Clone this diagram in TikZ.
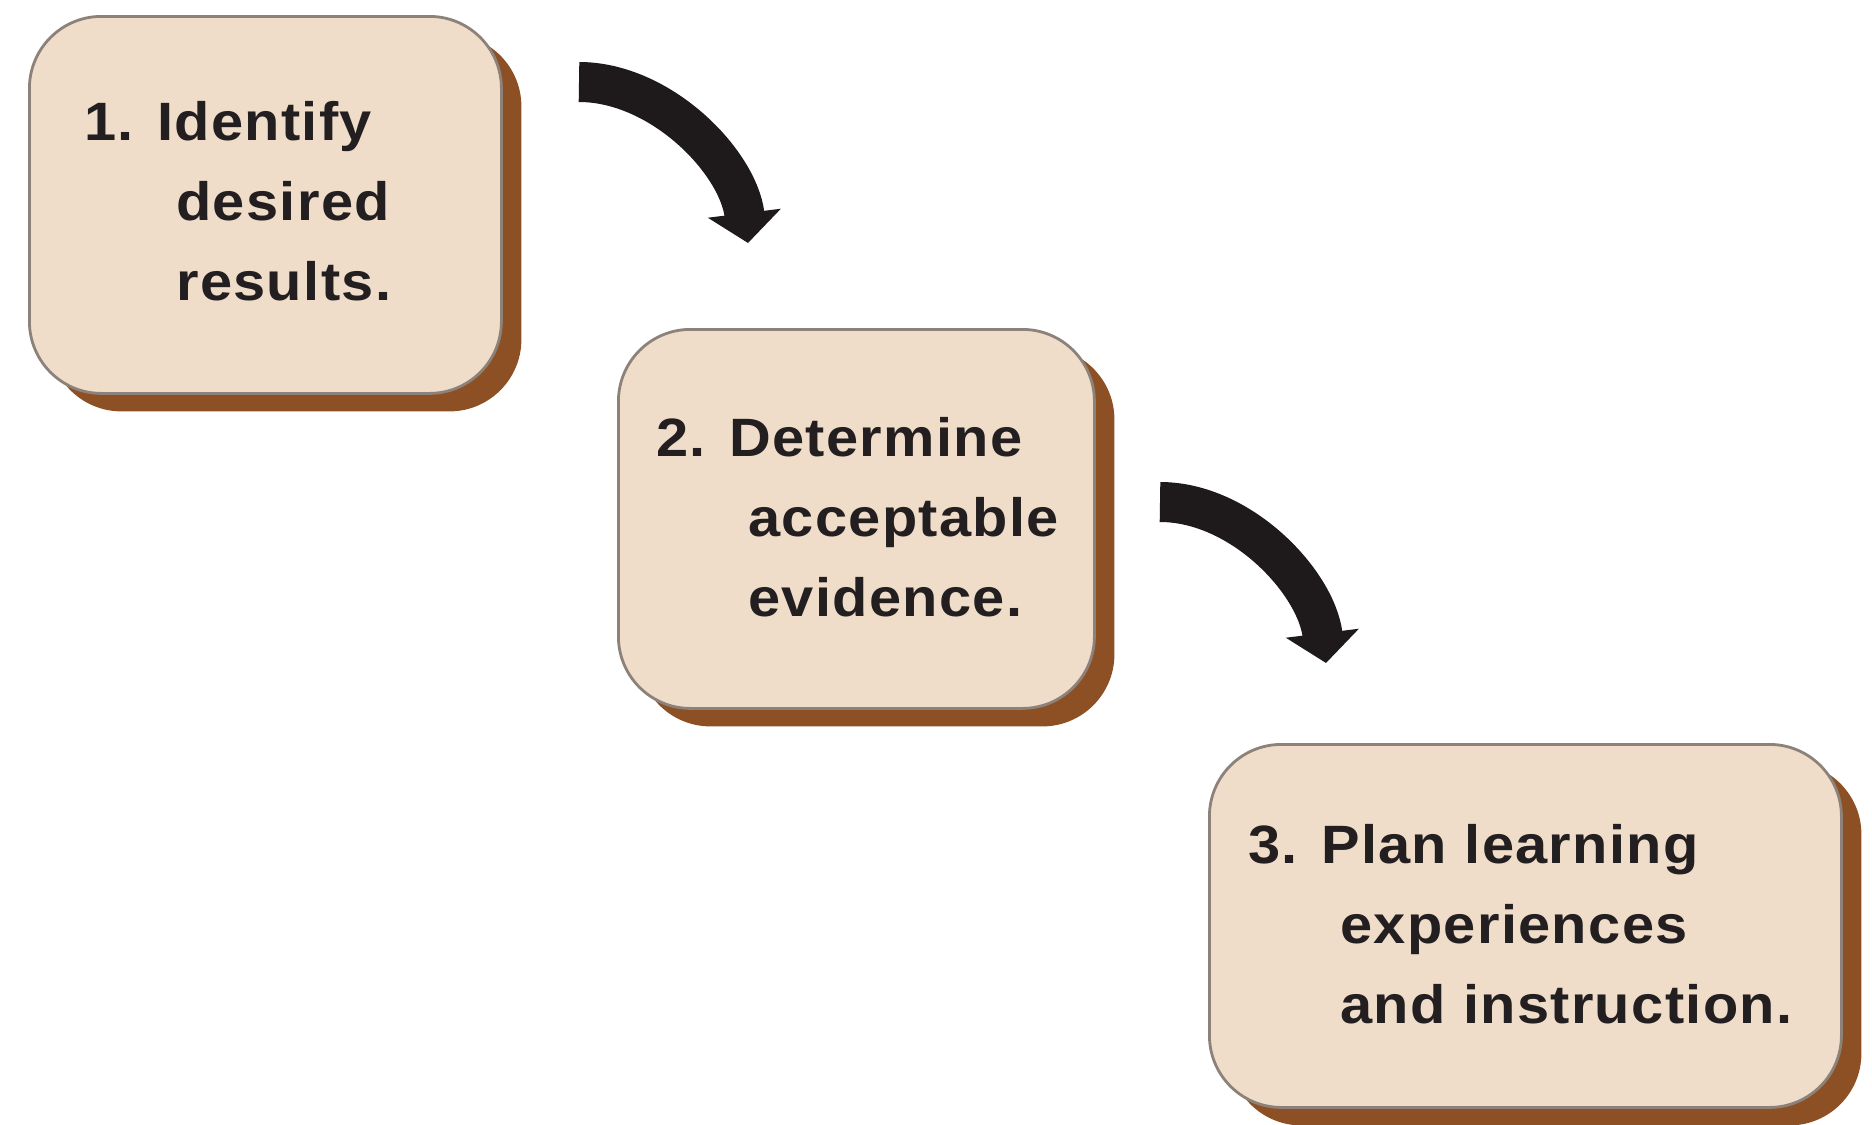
\documentclass[tikz,border=0pt]{standalone}
\usepackage{fontspec}
\usepackage{xcolor}
\usepackage{tikz}
\usetikzlibrary{arrows.meta,shadows}
\newfontfamily\stagefont[FakeStretch=1.07,LetterSpace=2.5]{Liberation Sans}
\definecolor{boxfill}{RGB}{239,221,202}
\definecolor{boxline}{RGB}{140,130,121}
\definecolor{shadowbrown}{RGB}{140,80,36}
\definecolor{arrowink}{RGB}{30,26,27}
\definecolor{textink}{RGB}{35,31,32}
\newcommand{\stageindent}{\hspace*{1.7em}}

\begin{document}
\begin{tikzpicture}[x=0.5pt,y=0.5pt,
  stagebox/.style={draw=boxline,line width=1.4pt,fill=boxfill,rounded corners=36pt,
    inner sep=0pt,anchor=north west,
    drop shadow={shadow xshift=10pt,shadow yshift=-9pt,fill=shadowbrown,opacity=1}},
  stagetext/.style={anchor=north west,inner sep=0pt,align=left,text=textink,
    font=\stagefont\bfseries\fontsize{27}{40}\selectfont},
  bigarrow/.style={draw=arrowink,line width=20pt,-{Triangle[width=36pt,length=15pt]}}]
\useasboundingbox (0,0) rectangle (1872,-1124);
%% step 1
\node[stagebox,minimum width=236pt,minimum height=188.5pt] (box1) at (28,-15) {};
\node[stagetext] (text1) at (84,-101) {1. Identify\\\stageindent desired\\\stageindent results.};
%% step 2
\node[stagebox,minimum width=238pt,minimum height=189.5pt] (box2) at (617,-328) {};
\node[stagetext] (text2) at (656,-417) {2. Determine\\\stageindent acceptable\\\stageindent evidence.};
%% step 3
\node[stagebox,minimum width=316pt,minimum height=181.5pt] (box3) at (1208,-743) {};
\node[stagetext] (text3) at (1248,-824) {3. Plan learning\\\stageindent experiences\\\stageindent and instruction.};
%% arrows
\coordinate (a1tail) at (579,-82);
\coordinate (a1tip) at (748,-243);
\draw[bigarrow] (a1tail) to[out=0,in=97,looseness=0.9] (a1tip);
\coordinate (a2tail) at (1160,-502);
\coordinate (a2tip) at (1326,-663);
\draw[bigarrow] (a2tail) to[out=0,in=97,looseness=0.9] (a2tip);
\end{tikzpicture}
\end{document}
